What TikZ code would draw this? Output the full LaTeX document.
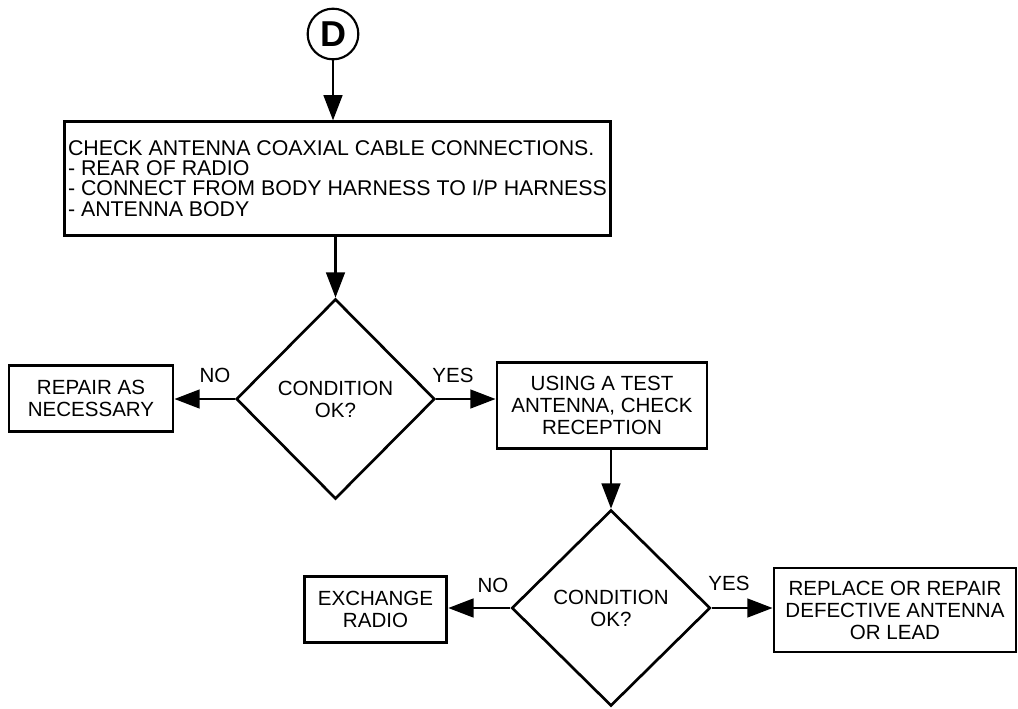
\documentclass[tikz,border=0pt]{standalone}
\usepackage{fontspec}
\setmainfont{Liberation Sans}
\usetikzlibrary{arrows.meta,shapes.geometric}

\begin{document}
\begin{tikzpicture}[x=0.75pt,y=-0.75pt,
    caja/.style={draw,line width=2.1pt,inner sep=0pt,align=center,
      font=\fontsize{15.4}{16.5}\selectfont},
    rombo/.style={draw,diamond,line width=2pt,inner sep=0pt,align=center,
      minimum width=149pt,minimum height=150pt,
      font=\fontsize{15.4}{16.5}\selectfont},
    flecha/.style={line width=2pt,-{Triangle[length=19pt,width=14pt]}},
    etiqueta/.style={font=\fontsize{15.4}{16.5}\selectfont}]
    \useasboundingbox (0,0) rectangle (1018,708);

    %Circulo de entrada D
    \node[draw,circle,line width=1.6pt,minimum size=38pt,inner sep=0pt,
      font=\fontsize{27}{27}\bfseries] (circD) at (333,34) {D};

    %Caja superior (revision de conexiones)
    \node[caja,align=left,minimum width=410pt,minimum height=85pt,
      font=\fontsize{16}{15.2}\selectfont] (revisar) at (337.5,178.5)
      {CHECK ANTENNA COAXIAL CABLE CONNECTIONS.\\
       - REAR OF RADIO\\
       - CONNECT FROM BODY HARNESS TO I/P HARNESS\\
       - ANTENNA BODY};

    %Primera decision
    \node[rombo] (cond1) at (335.5,399) {CONDITION\\OK?};
    \node[caja,minimum width=123pt,minimum height=50pt] (reparar) at (91,398.5)
      {REPAIR AS\\NECESSARY};
    \node[caja,minimum width=157.5pt,minimum height=64pt] (prueba) at (602,405.5)
      {USING A TEST\\ANTENNA, CHECK\\RECEPTION};

    %Segunda decision
    \node[rombo,minimum height=147pt] (cond2) at (611,608) {CONDITION\\OK?};
    \node[caja,minimum width=107pt,minimum height=49pt] (cambiar) at (375.5,609.5)
      {EXCHANGE\\RADIO};
    \node[caja,minimum width=181.5pt,minimum height=63pt] (reemplazar) at (895,610)
      {REPLACE OR REPAIR\\DEFECTIVE ANTENNA\\OR LEAD};

    %Etiquetas NO / YES
    \node[etiqueta] (no1) at (215,375) {NO};
    \node[etiqueta] (si1) at (453,375) {YES};
    \node[etiqueta] (no2) at (493,585) {NO};
    \node[etiqueta] (si2) at (729,583) {YES};

    %Flechas
    \draw[flecha] (circD.south) -- (circD.south |- revisar.north);
    \draw[flecha] (cond1.north |- revisar.south) -- (cond1.north);
    \draw[flecha] (cond1.west) -- (reparar.east |- cond1.west);
    \draw[flecha] (cond1.east) -- (prueba.west |- cond1.east);
    \draw[flecha] (cond2.north |- prueba.south) -- (cond2.north);
    \draw[flecha] (cond2.west) -- (cambiar.east |- cond2.west);
    \draw[flecha] (cond2.east) -- (reemplazar.west |- cond2.east);
\end{tikzpicture}
\end{document}
